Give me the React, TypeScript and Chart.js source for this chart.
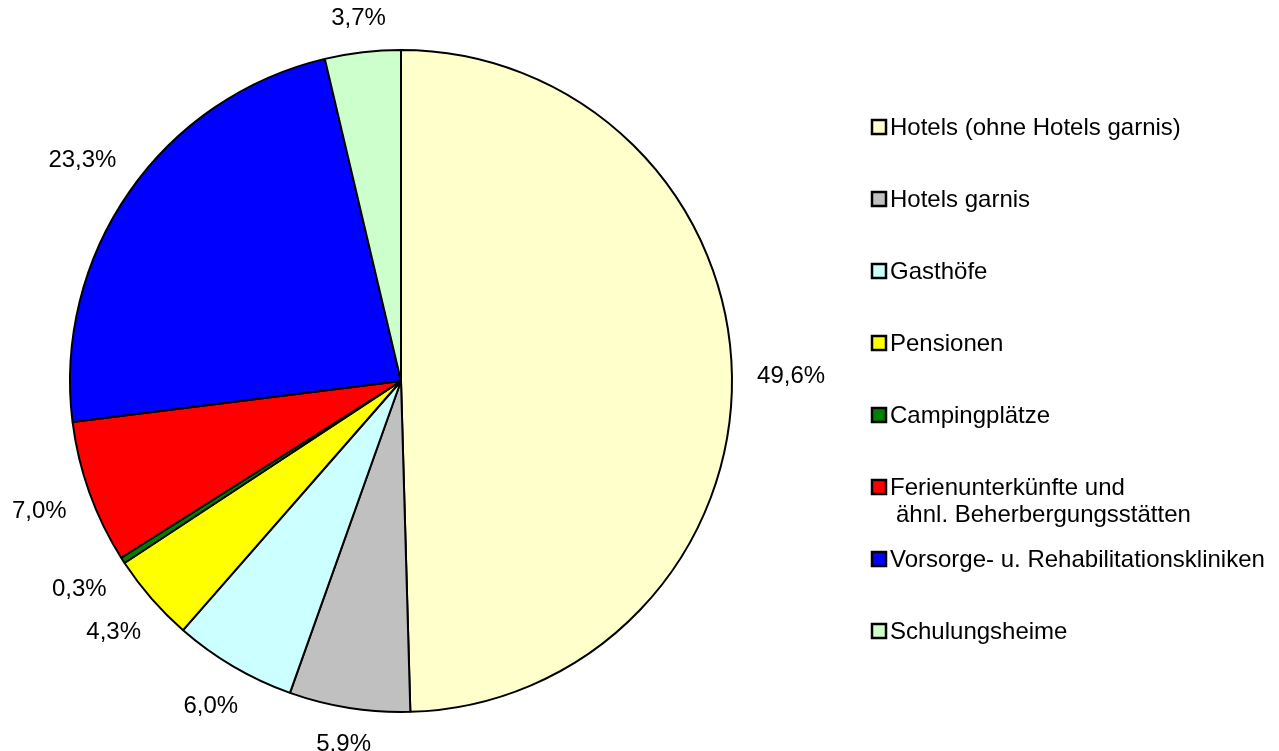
import React, { useEffect, useRef } from 'react';
import { Chart, registerables } from 'chart.js';

Chart.register(...registerables);

const categories = [
  'Hotels (ohne Hotels garnis)',
  'Hotels garnis',
  'Gasthöfe',
  'Pensionen',
  'Campingplätze',
  'Ferienunterkünfte und\nähnl. Beherbergungsstätten',
  'Vorsorge- u. Rehabilitationskliniken',
  'Schulungsheime',
];
const values = [49.6, 5.9, 6.0, 4.3, 0.3, 7.0, 23.3, 3.7];
const colors = ['#FFFFCC', '#C0C0C0', '#CCFFFF', '#FFFF00', '#008000', '#FF0000', '#0000FF', '#CCFFCC'];

const FONT = '24px "Liberation Sans", Arial, Helvetica, sans-serif';

const fmt = (v: number) => v.toFixed(1).replace('.', ',') + '%';

const overlayPlugin = {
  id: 'overlay',
  afterDraw(chart: any) {
    const ctx = chart.ctx as CanvasRenderingContext2D;
    const meta = chart.getDatasetMeta(0);
    ctx.save();
    ctx.font = FONT;
    ctx.fillStyle = '#000';
    ctx.textAlign = 'center';
    ctx.textBaseline = 'middle';
    meta.data.forEach((arc: any, i: number) => {
      const p = arc.getProps(['startAngle', 'endAngle', 'outerRadius', 'x', 'y'], true);
      const mid = (p.startAngle + p.endAngle) / 2;
      const dx = Math.cos(mid);
      const dy = Math.sin(mid);
      const text = fmt(values[i]);
      const w = ctx.measureText(text).width;
      const h = 14;
      const ext = Math.abs(dx) * w / 2 + Math.abs(dy) * h / 2;
      const d = p.outerRadius + 25 + ext;
      ctx.fillText(text, p.x + dx * d, p.y + dy * d + 1);
    });
    // legend
    ctx.textAlign = 'left';
    categories.forEach((c, i) => {
      const yy = 127 + 72 * i;
      ctx.fillStyle = colors[i];
      ctx.fillRect(872, yy - 7, 14, 14);
      ctx.strokeStyle = '#000';
      ctx.lineWidth = 2.5;
      ctx.strokeRect(872, yy - 7, 14, 14);
      ctx.fillStyle = '#000';
      c.split('\n').forEach((ln, j) => {
        ctx.fillText(ln, 890 + (j ? 6 : 0), yy + 1 + j * 27);
      });
    });
    ctx.restore();
  },
};

export default function App() {
  const ref = useRef<HTMLCanvasElement>(null);
  useEffect(() => {
    if (!ref.current) return;
    const chart = new Chart(ref.current, {
      type: 'pie',
      data: {
        labels: categories,
        datasets: [
          {
            data: values,
            backgroundColor: colors,
            borderColor: '#000',
            borderWidth: 2,
            hoverOffset: 0,
            offset: 0,
          },
        ],
      },
      options: {
        responsive: false,
        animation: false,
        layout: { padding: { left: 69, top: 49, right: 546, bottom: 38 } },
        plugins: {
          legend: { display: false },
          tooltip: { enabled: false },
        },
      },
      plugins: [overlayPlugin],
    });
    return () => chart.destroy();
  }, []);
  return (
    <div style={{ position: 'fixed', left: 0, top: 0, width: 1279, height: 751, background: '#fff' }}>
      <canvas ref={ref} width={1279} height={751} />
    </div>
  );
}
